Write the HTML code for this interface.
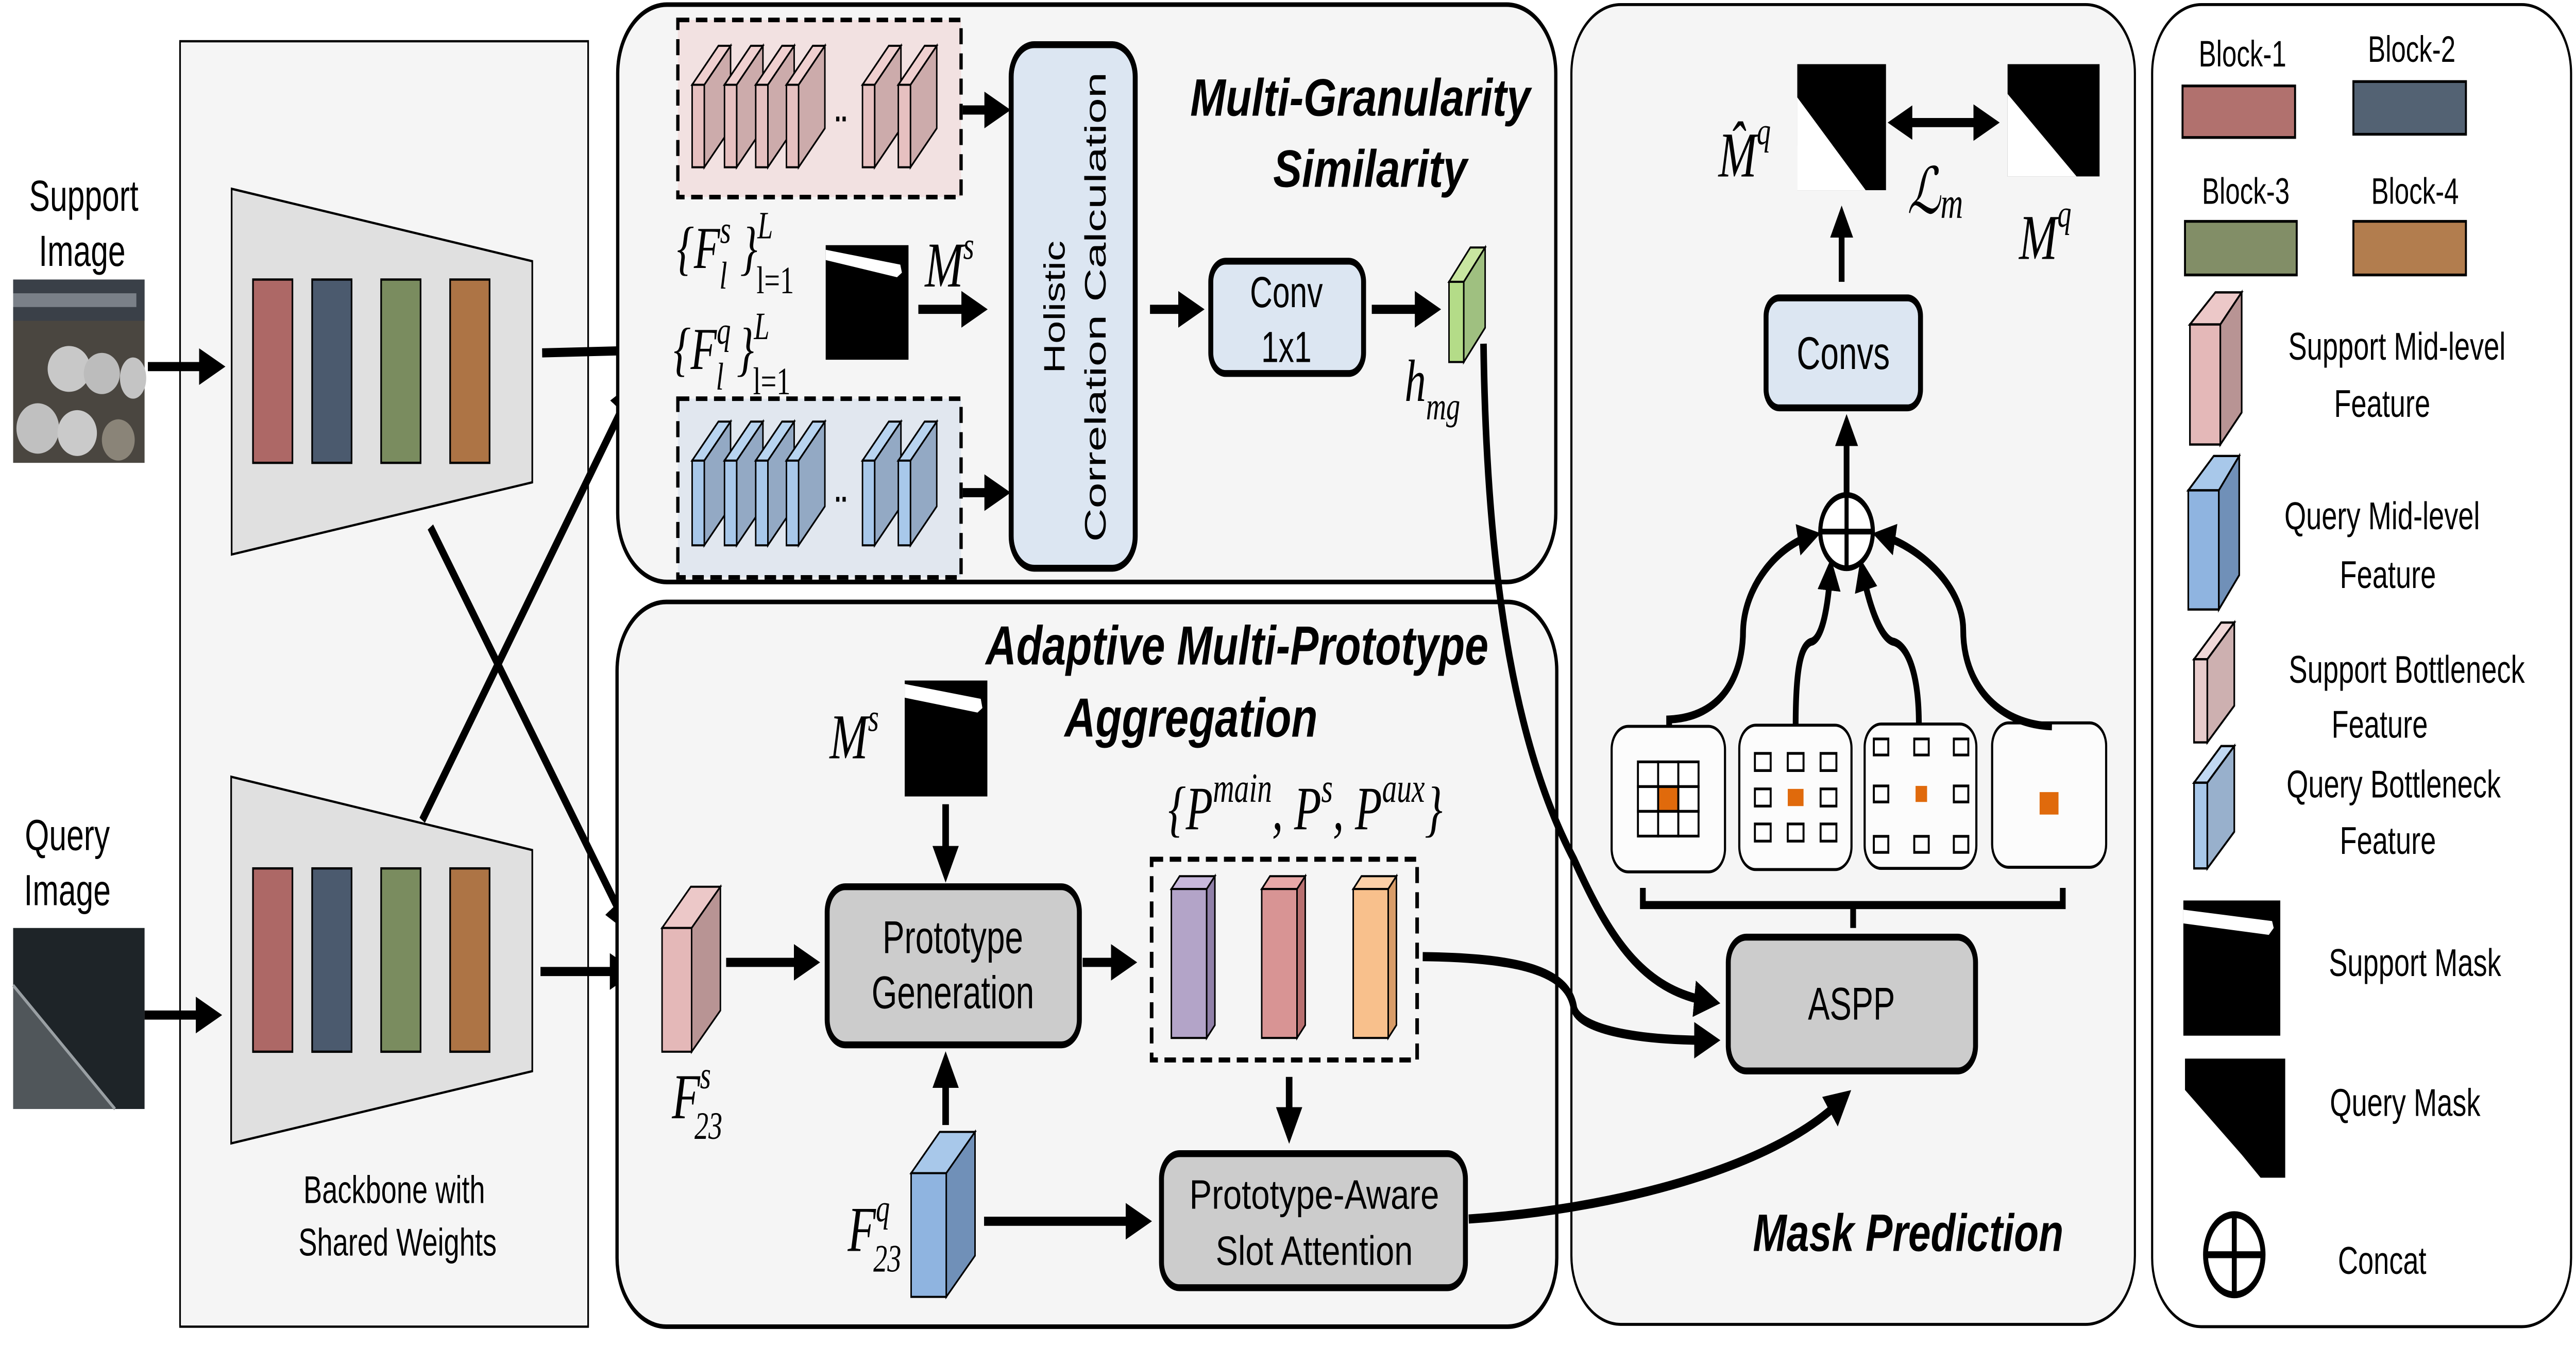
<!DOCTYPE html>
<html><head><meta charset="utf-8"><style>
html,body{margin:0;padding:0;background:#fff;width:100%;height:100%;overflow:hidden;}
svg{display:block;position:fixed;left:0;top:0;width:100vw;height:100vh;}
.s{font-family:"Liberation Sans",sans-serif;}
.m{font-family:"Liberation Serif",serif;font-style:italic;}
.t{font-family:"Liberation Sans",sans-serif;font-style:italic;font-weight:bold;}
</style></head><body>
<svg viewBox="0 0 1568 587" preserveAspectRatio="none" xmlns="http://www.w3.org/2000/svg">
<defs>
<marker id="a" markerWidth="4" markerHeight="4" refX="2.2" refY="2" orient="auto" markerUnits="strokeWidth"><path d="M0,0 L4,2 L0,4 Z" fill="#000"/></marker>
</defs>
<rect width="1568" height="587" fill="#fff"/>

<!-- Backbone panel -->
<rect x="109.6" y="18" width="248.4" height="561" fill="#f5f5f5" stroke="#000" stroke-width="1"/>
<polygon points="141,82.4 324,114 324,210.5 141,242" fill="#e0e0e0" stroke="#000" stroke-width="1"/>
<polygon points="140.7,339 324,371 324,467.5 140.7,499" fill="#e0e0e0" stroke="#000" stroke-width="1"/>
<g stroke="#000" stroke-width="1">
<rect x="154" y="122" width="24" height="80" fill="#ad6866"/><rect x="190" y="122" width="24" height="80" fill="#4b5a6e"/>
<rect x="232" y="122" width="24" height="80" fill="#7a8c5f"/><rect x="274" y="122" width="24" height="80" fill="#ad7445"/>
<rect x="154" y="379" width="24" height="80" fill="#ad6866"/><rect x="190" y="379" width="24" height="80" fill="#4b5a6e"/>
<rect x="232" y="379" width="24" height="80" fill="#7a8c5f"/><rect x="274" y="379" width="24" height="80" fill="#ad7445"/>
</g>
<text class="s" x="240" y="525" font-size="17" text-anchor="middle">Backbone with</text>
<text class="s" x="242" y="548" font-size="17" text-anchor="middle">Shared Weights</text>

<text class="s" x="51" y="92" font-size="19" text-anchor="middle">Support</text>
<text class="s" x="50" y="116" font-size="19" text-anchor="middle">Image</text>
<rect x="8" y="122" width="80" height="80" fill="#4a4640"/>
<rect x="8" y="122" width="80" height="18" fill="#3a4048"/>
<rect x="8" y="128" width="75" height="6" fill="#7a8088"/>
<ellipse cx="42" cy="161" rx="13" ry="10" fill="#c8c8c8"/><ellipse cx="62" cy="163" rx="11" ry="9" fill="#bcbcbc"/><ellipse cx="81" cy="165" rx="8" ry="9" fill="#c4c4c4"/>
<ellipse cx="23" cy="187" rx="13" ry="11" fill="#c0c0c0"/><ellipse cx="47" cy="189" rx="12" ry="10" fill="#cacaca"/><ellipse cx="72" cy="192" rx="10" ry="9" fill="#8a8478"/>
<text class="s" x="41" y="371" font-size="19" text-anchor="middle">Query</text>
<text class="s" x="41" y="395" font-size="19" text-anchor="middle">Image</text>
<rect x="8" y="405" width="80" height="79" fill="#1e2428"/>
<polygon points="8,430 70,484 8,484" fill="#50565a"/>
<line x1="8" y1="430" x2="70" y2="484" stroke="#9aa0a4" stroke-width="1.5"/>

<g stroke="#000" stroke-width="4" fill="none" marker-end="url(#a)">
<line x1="90" y1="160" x2="130" y2="160"/>
<line x1="88" y1="443" x2="128" y2="443"/>
<line x1="330" y1="154" x2="384" y2="153"/>
<line x1="262" y1="230" x2="380" y2="402"/>
<line x1="257" y1="358" x2="383" y2="172"/>
<line x1="329" y1="424" x2="380" y2="424"/>
</g>

<!-- MGS panel -->
<rect x="376" y="2" width="571" height="252" rx="30" fill="#f5f5f5" stroke="#000" stroke-width="2"/>
<rect x="412.6" y="8.7" width="172.4" height="77.3" fill="#f2e1e1" stroke="#000" stroke-width="2" stroke-dasharray="7,4"/>
<rect x="412.6" y="174" width="172.4" height="78" fill="#e1e7ef" stroke="#000" stroke-width="2" stroke-dasharray="7,4"/>
<g stroke="#000" stroke-width="0.9">
<g id="ps">
<polygon points="428.7,37 444.7,20 444.7,56 428.7,73" fill="#c9a8a8" fill-opacity="0.95"/><rect x="421.3" y="37" width="7.4" height="36" fill="#e6c0c0"/><polygon points="421.3,37 437.3,20 444.7,20 428.7,37" fill="#f0d0d0"/>
</g>
<use href="#ps" x="19.7"/><use href="#ps" x="38.7"/><use href="#ps" x="57.4"/><use href="#ps" x="103.7"/><use href="#ps" x="125.5"/>
</g>
<g stroke="#000" stroke-width="0.9">
<g id="qs">
<polygon points="428.7,201 444.7,184 444.7,221 428.7,238" fill="#93a9c4"/><rect x="421.3" y="201" width="7.4" height="37" fill="#a8c8ea"/><polygon points="421.3,201 437.3,184 444.7,184 428.7,201" fill="#b8d4f0"/>
</g>
<use href="#qs" x="19.7"/><use href="#qs" x="38.7"/><use href="#qs" x="57.4"/><use href="#qs" x="103.7"/><use href="#qs" x="125.5"/>
</g>
<text class="s" x="508" y="53" font-size="14" font-weight="bold">..</text>
<text class="s" x="508" y="219" font-size="14" font-weight="bold">..</text>
<rect x="615.5" y="19.5" width="75.5" height="228.5" rx="14" fill="#dce6f2" stroke="#000" stroke-width="3"/>
<text class="s" transform="translate(648,134) rotate(-90)" font-size="18" text-anchor="middle">Holistic</text>
<text class="s" transform="translate(673,134) rotate(-90)" font-size="18" text-anchor="middle" textLength="205" lengthAdjust="spacingAndGlyphs">Correlation Calculation</text>
<text class="t" x="828" y="50.5" font-size="23" text-anchor="middle" textLength="207" lengthAdjust="spacingAndGlyphs">Multi-Granularity</text>
<text class="t" x="834" y="81.5" font-size="23" text-anchor="middle" textLength="118" lengthAdjust="spacingAndGlyphs">Similarity</text>
<text class="m" x="412" y="117" font-size="26">{F<tspan font-size="17" dy="-11">s</tspan><tspan font-size="17" dx="-7" dy="20">l</tspan><tspan dx="8" dy="-9">}</tspan><tspan font-size="17" dy="-13">L</tspan><tspan font-size="17" font-style="normal" dx="-10" dy="24">l=1</tspan></text>
<text class="m" x="410" y="161" font-size="26">{F<tspan font-size="17" dy="-11">q</tspan><tspan font-size="17" dx="-9" dy="20">l</tspan><tspan dx="8" dy="-9">}</tspan><tspan font-size="17" dy="-13">L</tspan><tspan font-size="17" font-style="normal" dx="-10" dy="24">l=1</tspan></text>
<rect x="502.6" y="107" width="50.4" height="50" fill="#000"/>
<path d="M502.6,109 L548,115.5 L549,119 L546,121 L502.6,113.5 Z" fill="#fff"/>
<text class="m" x="563" y="125" font-size="28">M<tspan font-size="17" dy="-12">s</tspan></text>
<g stroke="#000" stroke-width="4" fill="none" marker-end="url(#a)">
<line x1="586" y1="48" x2="608" y2="48"/>
<line x1="586" y1="215" x2="608" y2="215"/>
<line x1="559" y1="135" x2="594" y2="135"/>
<line x1="700" y1="135" x2="726" y2="135"/>
<line x1="835" y1="135" x2="870" y2="135"/>
</g>
<rect x="737" y="114" width="93" height="49" rx="9" fill="#dce6f2" stroke="#000" stroke-width="3"/>
<text class="s" x="783" y="134" font-size="19" text-anchor="middle">Conv</text>
<text class="s" x="783" y="158" font-size="19" text-anchor="middle">1x1</text>
<polygon points="882,123 895,108 904,108 891,123" fill="#c8e6a0" stroke="#000" stroke-width="0.9"/>
<rect x="882" y="123" width="9" height="35" fill="#b4dc88" stroke="#000" stroke-width="0.9"/>
<polygon points="891,123 904,108 904,143 891,158" fill="#9fc080" stroke="#000" stroke-width="0.9"/>
<text class="m" x="855" y="175" font-size="26">h<tspan font-size="17" dy="8">mg</tspan></text>

<!-- AMPA panel -->
<rect x="375.6" y="262.7" width="572" height="316.3" rx="30" fill="#f5f5f5" stroke="#000" stroke-width="2"/>
<text class="t" x="753" y="290" font-size="24" text-anchor="middle" textLength="306" lengthAdjust="spacingAndGlyphs">Adaptive Multi-Prototype</text>
<text class="t" x="725" y="321.5" font-size="24" text-anchor="middle" textLength="154" lengthAdjust="spacingAndGlyphs">Aggregation</text>
<text class="m" x="505" y="331" font-size="28">M<tspan font-size="17" dy="-12">s</tspan></text>
<rect x="550.7" y="297" width="50.3" height="50.6" fill="#000"/>
<path d="M550.7,298.5 L597,305 L598,309 L595,311 L550.7,304.5 Z" fill="#fff"/>
<rect x="503.5" y="387" width="153.5" height="69" rx="11" fill="#cccccc" stroke="#000" stroke-width="3"/>
<text class="s" x="580" y="416" font-size="20" text-anchor="middle">Prototype</text>
<text class="s" x="580" y="440" font-size="20" text-anchor="middle">Generation</text>
<polygon points="403,405 420.5,387 438.5,387 421,405" fill="#ecc8c8" stroke="#000" stroke-width="0.9"/>
<rect x="403" y="405" width="18" height="54" fill="#e4b8b8" stroke="#000" stroke-width="0.9"/>
<polygon points="421,405 438.5,387 438.5,441 421,459" fill="#b89494" stroke="#000" stroke-width="0.9"/>
<text class="m" x="409" y="488" font-size="28">F<tspan font-size="17" dy="-13">s</tspan><tspan font-size="17" dx="-10" dy="22">23</tspan></text>
<polygon points="554.6,512 572,494 593.5,494 576,512" fill="#a8c8ea" stroke="#000" stroke-width="0.9"/>
<rect x="554.6" y="512" width="21.4" height="54" fill="#8fb4e0" stroke="#000" stroke-width="0.9"/>
<polygon points="576,512 593.5,494 593.5,548 576,566" fill="#7090b8" stroke="#000" stroke-width="0.9"/>
<text class="m" x="516" y="546" font-size="28">F<tspan font-size="17" dy="-13">q</tspan><tspan font-size="17" dx="-10" dy="22">23</tspan></text>
<text class="m" x="711" y="362" font-size="27">{P<tspan font-size="18" dy="-12">main</tspan><tspan dy="12">, P</tspan><tspan font-size="18" dy="-12">s</tspan><tspan dy="12">, P</tspan><tspan font-size="18" dy="-12">aux</tspan><tspan dy="12">}</tspan></text>
<rect x="701" y="375" width="161.6" height="87.6" fill="none" stroke="#000" stroke-width="2.2" stroke-dasharray="7,4"/>
<g stroke="#000" stroke-width="0.9">
<polygon points="713,388 718,382.4 739.5,382.4 734.5,388" fill="#c8b8dc"/><rect x="713" y="388" width="21.5" height="65" fill="#b3a4c8"/><polygon points="734.5,388 739.5,382.4 739.5,447.4 734.5,453" fill="#9080a8"/>
<polygon points="768,388 773,382.4 794.5,382.4 789.5,388" fill="#e8a8a8"/><rect x="768" y="388" width="21.5" height="65" fill="#d89494"/><polygon points="789.5,388 794.5,382.4 794.5,447.4 789.5,453" fill="#b87070"/>
<polygon points="823.7,388 828.7,382.4 850,382.4 845,388" fill="#fcd0a8"/><rect x="823.7" y="388" width="21.3" height="65" fill="#f8c08c"/><polygon points="845,388 850,382.4 850,447.4 845,453" fill="#d89c68"/>
</g>
<rect x="707" y="503.5" width="185" height="58.5" rx="11" fill="#cccccc" stroke="#000" stroke-width="3"/>
<text class="s" x="800" y="527.5" font-size="18" text-anchor="middle" textLength="152" lengthAdjust="spacingAndGlyphs">Prototype-Aware</text>
<text class="s" x="800" y="552" font-size="18" text-anchor="middle" textLength="120" lengthAdjust="spacingAndGlyphs">Slot Attention</text>
<g stroke="#000" stroke-width="4" fill="none" marker-end="url(#a)">
<line x1="575.6" y1="351" x2="575.6" y2="378"/>
<line x1="575.6" y1="491" x2="575.6" y2="466"/>
<line x1="442" y1="420" x2="492" y2="420"/>
<line x1="659" y1="420" x2="685" y2="420"/>
<line x1="784.7" y1="470" x2="784.7" y2="492"/>
<line x1="599" y1="533" x2="694" y2="533"/>
</g>

<!-- MP panel -->
<rect x="956.5" y="2" width="343" height="576" rx="30" fill="#f5f5f5" stroke="#000" stroke-width="1.3"/>
<text class="t" x="1161.5" y="546" font-size="23" text-anchor="middle" textLength="189" lengthAdjust="spacingAndGlyphs">Mask Prediction</text>
<g stroke="#000" stroke-width="4" fill="none" marker-end="url(#a)">
<path d="M866,417.5 C930,418 955,425 958,440 C962,450 1000,454 1040,454"/>
<path d="M894,532 C980,528 1080,510 1121,480"/>
<path d="M903,150 C905,260 925,330 958,375 C980,410 1000,432 1040,437"/>
</g>
<rect x="1052" y="409" width="150.5" height="58.4" rx="11" fill="#cccccc" stroke="#000" stroke-width="3"/>
<text class="s" x="1127" y="445" font-size="20" text-anchor="middle" textLength="53" lengthAdjust="spacingAndGlyphs">ASPP</text>
<g fill="#fcfcfc" stroke="#000" stroke-width="1.3">
<rect x="981" y="317" width="69" height="63.5" rx="10"/>
<rect x="1058.7" y="316.5" width="68.3" height="63" rx="10"/>
<rect x="1135" y="316" width="68" height="63" rx="10"/>
<rect x="1212.6" y="315.5" width="69.4" height="63" rx="10"/>
</g>
<g fill="#fff" stroke="#000" stroke-width="1.2">
<rect x="997" y="332.5" width="12.3" height="10.8"/><rect x="1009.3" y="332.5" width="12.3" height="10.8"/><rect x="1021.6" y="332.5" width="12.3" height="10.8"/>
<rect x="997" y="343.3" width="12.3" height="10.8"/><rect x="1009.3" y="343.3" width="12.3" height="10.8" fill="#e06a0c"/><rect x="1021.6" y="343.3" width="12.3" height="10.8"/>
<rect x="997" y="354.1" width="12.3" height="10.8"/><rect x="1009.3" y="354.1" width="12.3" height="10.8"/><rect x="1021.6" y="354.1" width="12.3" height="10.8"/>
<rect x="1068.2" y="328.8" width="9.6" height="7.5"/><rect x="1088.2" y="328.8" width="9.6" height="7.5"/><rect x="1108.2" y="328.8" width="9.6" height="7.5"/>
<rect x="1068.2" y="344.3" width="9.6" height="7.5"/><rect x="1088.2" y="344.3" width="9.6" height="7.5" fill="#e06a0c" stroke="none"/><rect x="1108.2" y="344.3" width="9.6" height="7.5"/>
<rect x="1068.2" y="359.6" width="9.6" height="7.5"/><rect x="1088.2" y="359.6" width="9.6" height="7.5"/><rect x="1108.2" y="359.6" width="9.6" height="7.5"/>
<rect x="1140.6" y="322.5" width="8.8" height="7"/><rect x="1165.2" y="322.5" width="8.8" height="7"/><rect x="1189.3" y="322.5" width="8.8" height="7"/>
<rect x="1140.6" y="343" width="8.8" height="7"/><rect x="1166" y="343" width="7" height="7" fill="#e06a0c" stroke="none"/><rect x="1189.3" y="343" width="8.8" height="7"/>
<rect x="1140.6" y="365" width="8.8" height="7"/><rect x="1165.2" y="365" width="8.8" height="7"/><rect x="1189.3" y="365" width="8.8" height="7"/>
</g>
<rect x="1241.5" y="345.7" width="11.5" height="9.8" fill="#e06a0c"/>
<path d="M1000,387.5 L1000,395 L1255.6,395 L1255.6,387.5 M1128,395 L1128,405" fill="none" stroke="#000" stroke-width="3.5"/>
<g stroke="#000" stroke-width="3.5" fill="none" marker-end="url(#a)">
<path d="M1016,317 L1016,314 C1048,313 1061,295 1061,275 C1062,255 1083,238 1102,234"/>
<path d="M1093,317 C1093,292 1096,281 1103,280 C1110,278 1113,262 1114,250"/>
<path d="M1168,316 C1168,292 1160,281 1152,280 C1144,278 1137,262 1134,250"/>
<path d="M1249,317 C1215,316 1195,298 1195,275 C1195,255 1166,238 1146,234"/>
<line x1="1124" y1="215" x2="1124" y2="187"/>
<line x1="1121" y1="123" x2="1121" y2="96"/>
</g>
<circle cx="1124" cy="232" r="16" fill="#fff" stroke="#000" stroke-width="2.5"/>
<line x1="1108" y1="232" x2="1140" y2="232" stroke="#000" stroke-width="2.5"/>
<line x1="1124" y1="216" x2="1124" y2="248" stroke="#000" stroke-width="2.5"/>
<rect x="1075" y="130" width="94" height="48" rx="8" fill="#dce6f2" stroke="#000" stroke-width="3"/>
<text class="s" x="1122" y="161" font-size="20" text-anchor="middle">Convs</text>
<rect x="1094" y="28" width="54" height="55" fill="#000"/>
<polygon points="1094,42.5 1135.6,83 1094,83" fill="#fff"/>
<rect x="1222" y="28" width="56" height="49" fill="#000"/>
<polygon points="1222,41 1264,77 1222,77" fill="#fff"/>
<g stroke="#000" stroke-width="4" fill="none" marker-end="url(#a)">
<line x1="1160" y1="53.5" x2="1210" y2="53.5"/>
</g>
<path d="M1149,53.5 L1164,46 L1164,61 Z" fill="#000"/>
<text class="m" x="1046" y="77" font-size="28">M̂<tspan font-size="17" dy="-14">q</tspan></text>
<text class="m" x="1161" y="93" font-size="28">ℒ<tspan font-size="19" dy="2">m</tspan></text>
<text class="m" x="1229" y="113" font-size="28">M<tspan font-size="17" dy="-14">q</tspan></text>

<!-- Legend -->
<rect x="1310" y="2" width="255" height="577" rx="30" fill="#fff" stroke="#000" stroke-width="1.3"/>
<text class="s" x="1365" y="29" font-size="16" text-anchor="middle">Block-1</text>
<text class="s" x="1468" y="27" font-size="16" text-anchor="middle">Block-2</text>
<text class="s" x="1367" y="89" font-size="16" text-anchor="middle">Block-3</text>
<text class="s" x="1470" y="89" font-size="16" text-anchor="middle">Block-4</text>
<g stroke="#000" stroke-width="1.2">
<rect x="1328.5" y="37.5" width="68.5" height="22.5" fill="#b1716e"/><rect x="1432.5" y="35.6" width="68.5" height="23" fill="#536273"/>
<rect x="1330" y="96.6" width="68" height="23.4" fill="#828e67"/><rect x="1432.5" y="96.6" width="68.5" height="23.4" fill="#b27d4e"/>
</g>
<g stroke="#000" stroke-width="1">
<polygon points="1333,141.6 1348.5,127.6 1364.5,127.6 1351.5,141.6" fill="#ecc8c8"/><rect x="1333" y="141.6" width="18.5" height="52.4" fill="#e4b8b8"/><polygon points="1351.5,141.6 1364.5,127.6 1364.5,180 1351.5,194" fill="#b89494"/>
<polygon points="1332,214 1347.5,199 1363,199 1350.6,214" fill="#a8c8ea"/><rect x="1332" y="214" width="18.6" height="52" fill="#8fb4e0"/><polygon points="1350.6,214 1363,199 1363,251 1350.6,266" fill="#7090b8"/>
<polygon points="1335.5,287.7 1352,271.7 1360,271.7 1343.6,287.7" fill="#f0d8d8"/><rect x="1335.5" y="287.7" width="8.1" height="36.3" fill="#e8cccc"/><polygon points="1343.6,287.7 1360,271.7 1360,308 1343.6,324" fill="#cdb0b0"/>
<polygon points="1335.5,341.6 1352,325.6 1360,325.6 1343.6,341.6" fill="#c0d8f2"/><rect x="1335.5" y="341.6" width="8.1" height="37.4" fill="#a8c8ea"/><polygon points="1343.6,341.6 1360,325.6 1360,363 1343.6,379" fill="#98b0cc"/>
</g>
<text class="s" x="1459" y="157" font-size="17" text-anchor="middle">Support Mid-level</text>
<text class="s" x="1450" y="182" font-size="17" text-anchor="middle">Feature</text>
<text class="s" x="1450" y="231" font-size="17" text-anchor="middle">Query Mid-level</text>
<text class="s" x="1453.5" y="256.6" font-size="17" text-anchor="middle">Feature</text>
<text class="s" x="1465" y="298" font-size="17" text-anchor="middle">Support Bottleneck</text>
<text class="s" x="1448.5" y="322" font-size="17" text-anchor="middle">Feature</text>
<text class="s" x="1457" y="348" font-size="17" text-anchor="middle">Query Bottleneck</text>
<text class="s" x="1453.5" y="372.7" font-size="17" text-anchor="middle">Feature</text>
<rect x="1329" y="393" width="59" height="59" fill="#000"/>
<path d="M1329,397 L1383,402 L1384,405 L1381,408 L1329,403 Z" fill="#fff"/>
<text class="s" x="1470" y="426" font-size="17" text-anchor="middle">Support Mask</text>
<polygon points="1330,462 1391,462 1391,514 1376,514 1364.6,504 1330,475.7" fill="#000"/>
<text class="s" x="1464" y="487" font-size="17" text-anchor="middle">Query Mask</text>
<circle cx="1360" cy="547.6" r="17.5" fill="#fff" stroke="#000" stroke-width="3"/>
<line x1="1342.5" y1="547.6" x2="1377.5" y2="547.6" stroke="#000" stroke-width="3"/>
<line x1="1360" y1="530" x2="1360" y2="565" stroke="#000" stroke-width="3"/>
<text class="s" x="1450" y="556" font-size="17" text-anchor="middle">Concat</text>
</svg>
</body></html>
